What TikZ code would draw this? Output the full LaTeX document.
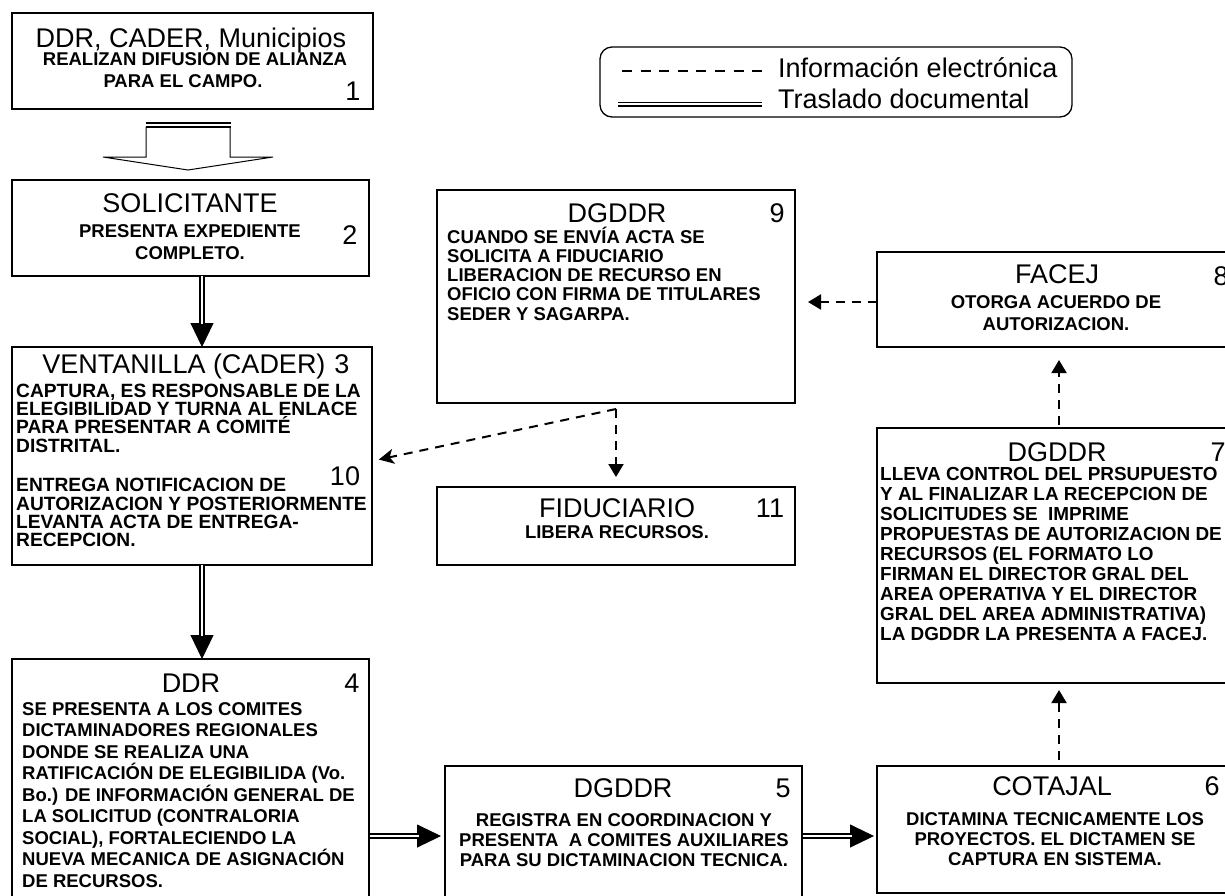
\documentclass[tikz,border=0pt]{standalone}
\usepackage{fontspec}
\setmainfont{Liberation Sans}
\usetikzlibrary{arrows.meta,calc}
\begin{document}
\begin{tikzpicture}[x=1pt,y=-1pt,
  box/.style={draw, line width=1.3pt, inner sep=0pt, outer sep=0pt, anchor=north west},
  ttl/.style={font=\fontsize{27}{30}\selectfont, anchor=base, inner sep=0pt},
  bdy/.style={font=\bfseries\fontsize{18.5}{21}\selectfont, anchor=base, inner sep=0pt},
  bdyl/.style={bdy, anchor=base west},
  bdyb/.style={font=\bfseries\fontsize{19.2}{21}\selectfont, anchor=base west, inner sep=0pt},
  bdyc/.style={font=\bfseries\fontsize{18.9}{21}\selectfont, anchor=base west, inner sep=0pt},
  dsh/.style={line width=2pt, dash pattern=on 9pt off 7pt},
  dsharrow/.style={dsh, -{Triangle[length=13pt,width=15pt]}},
  dshstealth/.style={dsh, -{Stealth[length=15pt,width=15pt,inset=4pt]}},
  dblhead/.style={line width=1pt, -{Triangle[length=24pt,width=23pt]}},
  dblshaft/.style={line width=1.8pt, double, double distance=2.8pt}
]
\useasboundingbox (0,0) rectangle (1225,895);
\fill[white] (0,0) rectangle (1225,895);

% ---------- boxes ----------
\node[box, minimum width=361pt, minimum height=96pt]  (b1)  at (12,13)   {};
\node[box, minimum width=357pt, minimum height=96pt]  (b2)  at (12,180)  {};
\node[box, minimum width=360pt, minimum height=218pt] (b3)  at (12,347)  {};
\node[box, minimum width=357pt, minimum height=270pt] (b4)  at (12,659)  {};
\node[box, minimum width=357pt, minimum height=160pt] (b5)  at (445,766) {};
\node[box, minimum width=363pt, minimum height=127pt] (b6)  at (877,766) {};
\node[box, minimum width=363pt, minimum height=255pt] (b7)  at (877,428) {};
\node[box, minimum width=363pt, minimum height=95pt]  (b8)  at (877,252) {};
\node[box, minimum width=358pt, minimum height=213pt] (b9)  at (437,190) {};
\node[box, minimum width=358pt, minimum height=78pt]  (b11) at (437,487) {};
\node[box, rounded corners=12pt, minimum width=472pt, minimum height=70pt] (lg) at (600,47) {};

% ---------- legend ----------
\node[ttl, anchor=base west] (lg1) at (778,77)  {Información electrónica};
\node[ttl, anchor=base west] (lg2) at (778,108) {Traslado documental};
\draw[line width=2pt, dash pattern=on 10pt off 8.6pt] (622,70.5) -- (762,70.5);
\draw[line width=1.4pt, double, double distance=2.2pt] (618,104) -- (762,104);

% ---------- box 1 ----------
\node[ttl] (b1t) at (191,47) {DDR, CADER, Municipios};
\node[bdy] (b1a) at (195,65) {REALIZAN DIFUSION DE ALIANZA};
\node[bdy] (b1b) at (183,87) {PARA EL CAMPO.};
\node[ttl] (b1n) at (353,100) {1};

% ---------- box 2 ----------
\node[ttl] (b2t) at (190,212) {SOLICITANTE};
\node[bdy] (b2a) at (190,237) {PRESENTA EXPEDIENTE};
\node[bdy] (b2b) at (190,259) {COMPLETO.};
\node[ttl] (b2n) at (350,244) {2};

% ---------- box 3 ----------
\node[ttl] (b3t) at (184,373) {VENTANILLA (CADER)};
\node[ttl] (b3n) at (342,373) {3};
\foreach \s [count=\i from 0] in {{CAPTURA, ES RESPONSABLE DE LA},{ELEGIBILIDAD Y TURNA AL ENLACE},{PARA PRESENTAR A COMITÉ},{DISTRITAL.}}
  \node[bdyb] (b3l\i) at (16,{397+18.35*\i}) {\s};
\foreach \s [count=\i from 0] in {{ENTREGA NOTIFICACION DE},{AUTORIZACION Y POSTERIORMENTE},{LEVANTA ACTA DE ENTREGA-},{RECEPCION.}}
  \node[bdyb] (b3m\i) at (16,{491.7+18.35*\i}) {\s};
\node[ttl] (b3k) at (345,485) {10};

% ---------- box 4 ----------
\node[ttl] (b4t) at (191,692) {DDR};
\node[ttl] (b4n) at (352,692) {4};
\foreach \s [count=\i from 0] in {{SE PRESENTA A LOS COMITES},{DICTAMINADORES REGIONALES},{DONDE SE REALIZA UNA},{RATIFICACIÓN DE ELEGIBILIDA (Vo.},{Bo.) DE INFORMACIÓN GENERAL DE},{LA SOLICITUD (CONTRALORIA},{SOCIAL), FORTALECIENDO LA},{NUEVA MECANICA DE ASIGNACIÓN},{DE RECURSOS.}}
  \node[bdyl] (b4l\i) at (22,{715+21.5*\i}) {\s};

% ---------- box 5 ----------
\node[ttl] (b5t) at (623,797) {DGDDR};
\node[ttl] (b5n) at (783,797) {5};
\node[bdy] (b5a) at (624,826) {REGISTRA EN COORDINACION Y};
\node[bdy] (b5b) at (624,846) {PRESENTA\ \ A COMITES AUXILIARES};
\node[bdy] (b5c) at (624,866) {PARA SU DICTAMINACION TECNICA.};

% ---------- box 6 ----------
\node[ttl] (b6t) at (1052,795) {COTAJAL};
\node[ttl] (b6n) at (1212,795) {6};
\node[bdy] (b6a) at (1055,825) {DICTAMINA TECNICAMENTE LOS};
\node[bdy] (b6b) at (1055,845) {PROYECTOS. EL DICTAMEN SE};
\node[bdy] (b6c) at (1055,865) {CAPTURA EN SISTEMA.};

% ---------- box 7 ----------
\node[ttl] (b7t) at (1057,461) {DGDDR};
\node[ttl] (b7n) at (1218,461) {7};
\foreach \s [count=\i from 0] in {{LLEVA CONTROL DEL PRSUPUESTO},{Y AL FINALIZAR LA RECEPCION DE},{SOLICITUDES SE\ \ IMPRIME},{PROPUESTAS DE AUTORIZACION DE},{RECURSOS (EL FORMATO LO},{FIRMAN EL DIRECTOR GRAL DEL},{AREA OPERATIVA Y EL DIRECTOR},{GRAL DEL AREA ADMINISTRATIVA)},{LA DGDDR LA PRESENTA A FACEJ.}}
  \node[bdyc] (b7l\i) at (880,{480+20*\i}) {\s};

% ---------- box 8 ----------
\node[ttl] (b8t) at (1057,283) {FACEJ};
\node[ttl] (b8n) at (1221,285) {8};
\node[bdy] (b8a) at (1056,308) {OTORGA ACUERDO DE};
\node[bdy] (b8b) at (1056,330) {AUTORIZACION.};

% ---------- box 9 ----------
\node[ttl] (b9t) at (617,222) {DGDDR};
\node[ttl] (b9n) at (777,222) {9};
\foreach \s [count=\i from 0] in {{CUANDO SE ENVÍA ACTA SE},{SOLICITA A FIDUCIARIO},{LIBERACION DE RECURSO EN},{OFICIO CON FIRMA DE TITULARES},{SEDER Y SAGARPA.}}
  \node[bdyl] (b9l\i) at (447,{243+19.25*\i}) {\s};

% ---------- box 11 ----------
\node[ttl] (b11t) at (617,517) {FIDUCIARIO};
\node[ttl] (b11n) at (770,517) {11};
\node[bdy] (b11a) at (617,538) {LIBERA RECURSOS.};

% ---------- hollow arrow 1 -> 2 ----------
\draw[line width=1pt, fill=white, line join=miter] (146,127) -- (146,157) -- (103,157) -- (188,170) -- (273,157) -- (230,157) -- (230,127);
\draw[line width=2.3pt] (145.5,123.2) -- (230.5,123.2);
\draw[line width=2.3pt] (145.5,126.8) -- (230.5,126.8);

% ---------- helper coordinates ----------
\coordinate (xa) at (202,0);
\coordinate (ya) at (0,836);
\coordinate (xb) at (1059,0);
\coordinate (yc) at (0,302);
\coordinate (yd) at (0,461);
\coordinate (j) at ($(b9.south)+(0,6)$);

% ---------- double (document) arrows ----------
\draw[dblhead] (b2.south -| xa) -- (b3.north -| xa);
\draw[dblshaft, shorten >=23pt] (b2.south -| xa) -- (b3.north -| xa);
\draw[dblhead] (b3.south -| xa) -- (b4.north -| xa);
\draw[dblshaft, shorten >=23pt] (b3.south -| xa) -- (b4.north -| xa);
\draw[dblhead, shorten >=4pt] (b4.east |- ya) -- (b5.west |- ya);
\draw[dblshaft, shorten <=0.7pt, shorten >=26pt] (b4.east |- ya) -- (b5.west |- ya);
\draw[dblhead, shorten >=3pt] (b5.east |- ya) -- (b6.west |- ya);
\draw[dblshaft, shorten <=0.7pt, shorten >=25pt] (b5.east |- ya) -- (b6.west |- ya);

% ---------- dashed (electronic) arrows ----------
\draw[dsharrow, shorten <=6pt, shorten >=7pt] (b6.north -| xb) -- (b7.south -| xb);
\draw[dsharrow, shorten <=3pt, shorten >=13pt] (b7.north -| xb) -- (b8.south -| xb);
\draw[dsharrow, shorten >=13pt] (b8.west |- yc) -- (b9.east |- yc);
\draw[dsharrow, shorten >=10pt] (j) -- (b11.north -| j);
\draw[dshstealth, shorten >=7pt] (j) -- (b3.east |- yd);
\end{tikzpicture}
\end{document}
